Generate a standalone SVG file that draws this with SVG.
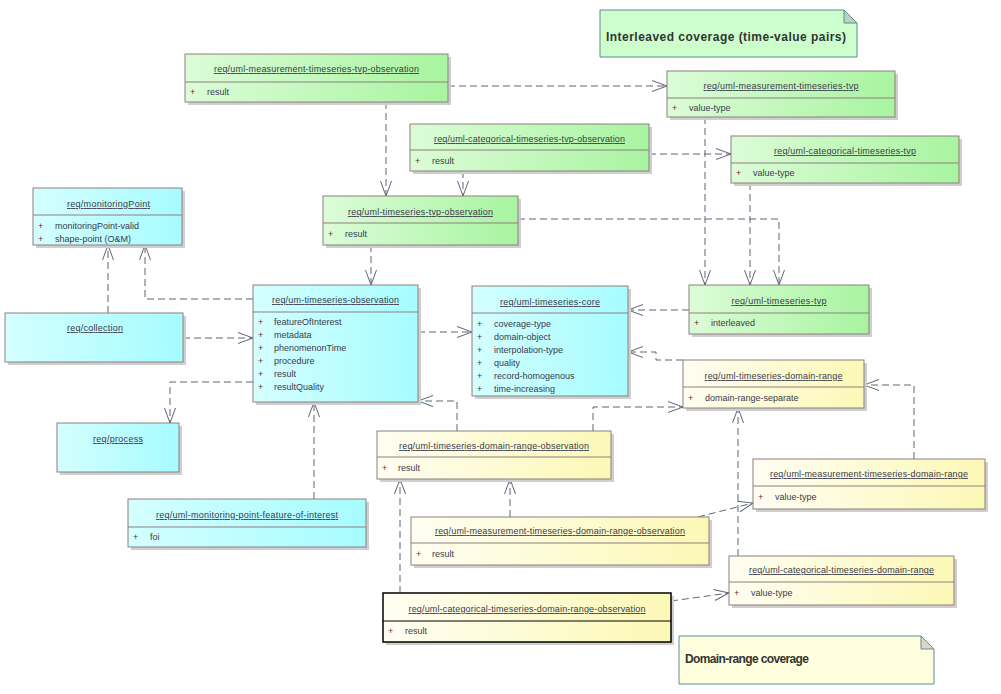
<svg xmlns="http://www.w3.org/2000/svg" width="1001" height="694" viewBox="0 0 1001 694">
<style>
.sh{fill:#cfcfcf}
.bx{stroke:#8f7f7f;stroke-width:1}
.sel{stroke:#000;stroke-width:1.5}
.dv{stroke:#8f7f7f;stroke-width:1}
.t{font-family:"Liberation Sans",Arial,sans-serif;font-size:9px;fill:#3a3a4a;text-anchor:middle;text-decoration:underline}
.a{font-family:"Liberation Sans",Arial,sans-serif;font-size:9px;fill:#3a3a4a}
.p{font-family:"Liberation Sans",Arial,sans-serif;font-size:9px;fill:#6a3030}
.c{fill:none;stroke:#5d6577;stroke-width:1;stroke-dasharray:7,4;marker-end:url(#arr)}
.nt{font-family:"Liberation Sans",Arial,sans-serif;font-size:12px;font-weight:bold;fill:#333}
</style>
<defs>
<linearGradient id="gG" x1="0" y1="0" x2="1" y2="0"><stop offset="0" stop-color="#dcfcd8"/><stop offset="1" stop-color="#a8f4a0"/></linearGradient>
<linearGradient id="gC" x1="0" y1="0" x2="1" y2="0"><stop offset="0" stop-color="#d4ffff"/><stop offset="1" stop-color="#a6fcff"/></linearGradient>
<linearGradient id="gY" x1="0" y1="0" x2="1" y2="0"><stop offset="0" stop-color="#fffef2"/><stop offset="1" stop-color="#fcf8b6"/></linearGradient>
<marker id="arr" markerWidth="16" markerHeight="12" refX="15" refY="6" orient="auto" markerUnits="userSpaceOnUse"><path d="M0,0.5 L15,6 L0,11.5" fill="none" stroke="#5d6577" stroke-width="1"/></marker>
</defs>

<g id="connectors">
<path class="c" d="M448,86 H667"/>
<path class="c" d="M386,102 V196"/>
<path class="c" d="M463,171 V196"/>
<path class="c" d="M649,154 H731"/>
<path class="c" d="M705,117 V285"/>
<path class="c" d="M750,183 V285"/>
<path class="c" d="M518,219 H779 V285"/>
<path class="c" d="M371,245 V285"/>
<path class="c" d="M253,299 H145 V245"/>
<path class="c" d="M108,313 V245"/>
<path class="c" d="M183,338 H253"/>
<path class="c" d="M253,382 H170 V423"/>
<path class="c" d="M418,332 H472"/>
<path class="c" d="M689,310 H628"/>
<path class="c" d="M683,360 H656 V352 H628"/>
<path class="c" d="M457,431 V401 H418"/>
<path class="c" d="M593,431 V407 H683"/>
<path class="c" d="M914,459 V385 H864"/>
<path class="c" d="M698,517 L753,503"/>
<path class="c" d="M510,517 V479"/>
<path class="c" d="M400,593 V479"/>
<path class="c" d="M671,601 L729,593"/>
<path class="c" d="M738,556 V408"/>
<path class="c" d="M314,499 V402"/>
</g>

<g id="note-interleaved">
<path d="M600,10 H844 L857,23 V57 H600 Z" fill="#ccffcc" stroke="#5f8a8a"/>
<path d="M844,10 V23 H857 Z" fill="#b8d4c0" stroke="#5f8a8a"/>
<text class="nt" x="606" y="41" textLength="240">Interleaved coverage (time-value pairs)</text>
</g>

<g id="note-domain-range">
<path d="M679,636 H921 L934,649 V684 H679 Z" fill="#ffffdd" stroke="#5f8ca0"/>
<path d="M921,636 V649 H934 Z" fill="#d8d8c4" stroke="#5f8ca0"/>
<text class="nt" x="685" y="663" textLength="124">Domain-range coverage</text>
</g>

<g id="n-meas-tvp-obs">
<rect class="sh" x="188" y="57" width="263" height="48"/>
<rect class="bx" x="185" y="54" width="263" height="48" fill="url(#gG)"/>
<line class="dv" x1="185" y1="82" x2="448" y2="82"/>
<text class="t" x="316.5" y="72" textLength="205">req/uml-measurement-timeseries-tvp-observation</text>
<text class="p" x="190" y="95">+</text><text class="a" x="207" y="95">result</text>
</g>

<g id="n-cat-tvp-obs">
<rect class="sh" x="413" y="127" width="239" height="47"/>
<rect class="bx" x="410" y="124" width="239" height="47" fill="url(#gG)"/>
<line class="dv" x1="410" y1="150" x2="649" y2="150"/>
<text class="t" x="529.5" y="142" textLength="191">req/uml-categorical-timeseries-tvp-observation</text>
<text class="p" x="415" y="164">+</text><text class="a" x="432" y="164">result</text>
</g>

<g id="n-meas-tvp">
<rect class="sh" x="670" y="74" width="228" height="46"/>
<rect class="bx" x="667" y="71" width="228" height="46" fill="url(#gG)"/>
<line class="dv" x1="667" y1="98" x2="895" y2="98"/>
<text class="t" x="781" y="89" textLength="155">req/uml-measurement-timeseries-tvp</text>
<text class="p" x="672" y="111">+</text><text class="a" x="689" y="111">value-type</text>
</g>

<g id="n-cat-tvp">
<rect class="sh" x="734" y="139" width="228" height="47"/>
<rect class="bx" x="731" y="136" width="228" height="47" fill="url(#gG)"/>
<line class="dv" x1="731" y1="163" x2="959" y2="163"/>
<text class="t" x="845" y="154" textLength="142">req/uml-categorical-timeseries-tvp</text>
<text class="p" x="736" y="176">+</text><text class="a" x="753" y="176">value-type</text>
</g>

<g id="n-tvp-obs">
<rect class="sh" x="326" y="199" width="195" height="49"/>
<rect class="bx" x="323" y="196" width="195" height="49" fill="url(#gG)"/>
<line class="dv" x1="323" y1="223" x2="518" y2="223"/>
<text class="t" x="420.5" y="215" textLength="145">req/uml-timeseries-tvp-observation</text>
<text class="p" x="328" y="237">+</text><text class="a" x="345" y="237">result</text>
</g>

<g id="n-monitoringPoint">
<rect class="sh" x="36" y="191" width="149" height="57"/>
<rect class="bx" x="33" y="188" width="149" height="57" fill="url(#gC)"/>
<line class="dv" x1="33" y1="215" x2="182" y2="215"/>
<text class="t" x="108.5" y="207" textLength="83">req/monitoringPoint</text>
<text class="p" x="38" y="229">+</text><text class="a" x="55" y="229">monitoringPoint-valid</text>
<text class="p" x="38" y="242">+</text><text class="a" x="55" y="242">shape-point (O&amp;M)</text>
</g>

<g id="n-collection">
<rect class="sh" x="8" y="316" width="178" height="49"/>
<rect class="bx" x="5" y="313" width="178" height="49" fill="url(#gC)"/>
<text class="t" x="95" y="331" textLength="56">req/collection</text>
</g>

<g id="n-um-ts-obs">
<rect class="sh" x="256" y="288" width="165" height="117"/>
<rect class="bx" x="253" y="285" width="165" height="117" fill="url(#gC)"/>
<line class="dv" x1="253" y1="312" x2="418" y2="312"/>
<text class="t" x="335.5" y="303" textLength="127">req/um-timeseries-observation</text>
<text class="p" x="258" y="325">+</text><text class="a" x="274" y="325">featureOfInterest</text>
<text class="p" x="258" y="338">+</text><text class="a" x="274" y="338">metadata</text>
<text class="p" x="258" y="351">+</text><text class="a" x="274" y="351">phenomenonTime</text>
<text class="p" x="258" y="364">+</text><text class="a" x="274" y="364">procedure</text>
<text class="p" x="258" y="377">+</text><text class="a" x="274" y="377">result</text>
<text class="p" x="258" y="390">+</text><text class="a" x="274" y="390">resultQuality</text>
</g>

<g id="n-core">
<rect class="sh" x="475" y="289" width="156" height="110"/>
<rect class="bx" x="472" y="286" width="156" height="110" fill="url(#gC)"/>
<line class="dv" x1="472" y1="313" x2="628" y2="313"/>
<text class="t" x="550" y="305" textLength="100">req/uml-timeseries-core</text>
<text class="p" x="477" y="327">+</text><text class="a" x="494" y="327">coverage-type</text>
<text class="p" x="477" y="340">+</text><text class="a" x="494" y="340">domain-object</text>
<text class="p" x="477" y="353">+</text><text class="a" x="494" y="353">interpolation-type</text>
<text class="p" x="477" y="366">+</text><text class="a" x="494" y="366">quality</text>
<text class="p" x="477" y="379">+</text><text class="a" x="494" y="379">record-homogenous</text>
<text class="p" x="477" y="392">+</text><text class="a" x="494" y="392">time-increasing</text>
</g>

<g id="n-ts-tvp">
<rect class="sh" x="692" y="288" width="180" height="49"/>
<rect class="bx" x="689" y="285" width="180" height="49" fill="url(#gG)"/>
<line class="dv" x1="689" y1="313" x2="869" y2="313"/>
<text class="t" x="779" y="304" textLength="95">req/uml-timeseries-tvp</text>
<text class="p" x="694" y="326">+</text><text class="a" x="711" y="326">interleaved</text>
</g>

<g id="n-ts-dr">
<rect class="sh" x="686" y="363" width="181" height="48"/>
<rect class="bx" x="683" y="360" width="181" height="48" fill="url(#gY)"/>
<line class="dv" x1="683" y1="387" x2="864" y2="387"/>
<text class="t" x="773.5" y="379" textLength="138">req/uml-timeseries-domain-range</text>
<text class="p" x="688" y="401">+</text><text class="a" x="705" y="401">domain-range-separate</text>
</g>

<g id="n-process">
<rect class="sh" x="60" y="426" width="122" height="49"/>
<rect class="bx" x="57" y="423" width="122" height="49" fill="url(#gC)"/>
<text class="t" x="118" y="442" textLength="50">req/process</text>
</g>

<g id="n-mp-foi">
<rect class="sh" x="131" y="502" width="238" height="48"/>
<rect class="bx" x="128" y="499" width="238" height="48" fill="url(#gC)"/>
<line class="dv" x1="128" y1="527" x2="366" y2="527"/>
<text class="t" x="247" y="518" textLength="182">req/uml-monitoring-point-feature-of-interest</text>
<text class="p" x="133" y="540">+</text><text class="a" x="150" y="540">foi</text>
</g>

<g id="n-dr-obs">
<rect class="sh" x="380" y="434" width="234" height="48"/>
<rect class="bx" x="377" y="431" width="234" height="48" fill="url(#gY)"/>
<line class="dv" x1="377" y1="457" x2="611" y2="457"/>
<text class="t" x="494" y="449" textLength="190">req/uml-timeseries-domain-range-observation</text>
<text class="p" x="382" y="471">+</text><text class="a" x="398" y="471">result</text>
</g>

<g id="n-meas-dr-obs">
<rect class="sh" x="414" y="520" width="298" height="48"/>
<rect class="bx" x="411" y="517" width="298" height="48" fill="url(#gY)"/>
<line class="dv" x1="411" y1="543" x2="709" y2="543"/>
<text class="t" x="560" y="534" textLength="250">req/uml-measurement-timeseries-domain-range-observation</text>
<text class="p" x="416" y="557">+</text><text class="a" x="432" y="557">result</text>
</g>

<g id="n-meas-dr">
<rect class="sh" x="756" y="462" width="232" height="50"/>
<rect class="bx" x="753" y="459" width="232" height="50" fill="url(#gY)"/>
<line class="dv" x1="753" y1="486" x2="985" y2="486"/>
<text class="t" x="869" y="477" textLength="198">req/uml-measurement-timeseries-domain-range</text>
<text class="p" x="758" y="500">+</text><text class="a" x="775" y="500">value-type</text>
</g>

<g id="n-cat-dr">
<rect class="sh" x="732" y="559" width="225" height="49"/>
<rect class="bx" x="729" y="556" width="225" height="49" fill="url(#gY)"/>
<line class="dv" x1="729" y1="582" x2="954" y2="582"/>
<text class="t" x="841.5" y="573" textLength="185">req/uml-categorical-timeseries-domain-range</text>
<text class="p" x="734" y="596">+</text><text class="a" x="751" y="596">value-type</text>
</g>

<g id="n-cat-dr-obs">
<rect class="sh" x="386" y="596" width="288" height="49"/>
<rect class="sel" x="383" y="593" width="288" height="49" fill="url(#gY)"/>
<line x1="383" y1="621" x2="671" y2="621" stroke="#000" stroke-width="1.2"/>
<text class="t" x="527" y="612" textLength="237">req/uml-categorical-timeseries-domain-range-observation</text>
<text class="p" x="388" y="634">+</text><text class="a" x="405" y="634">result</text>
</g>
</svg>
